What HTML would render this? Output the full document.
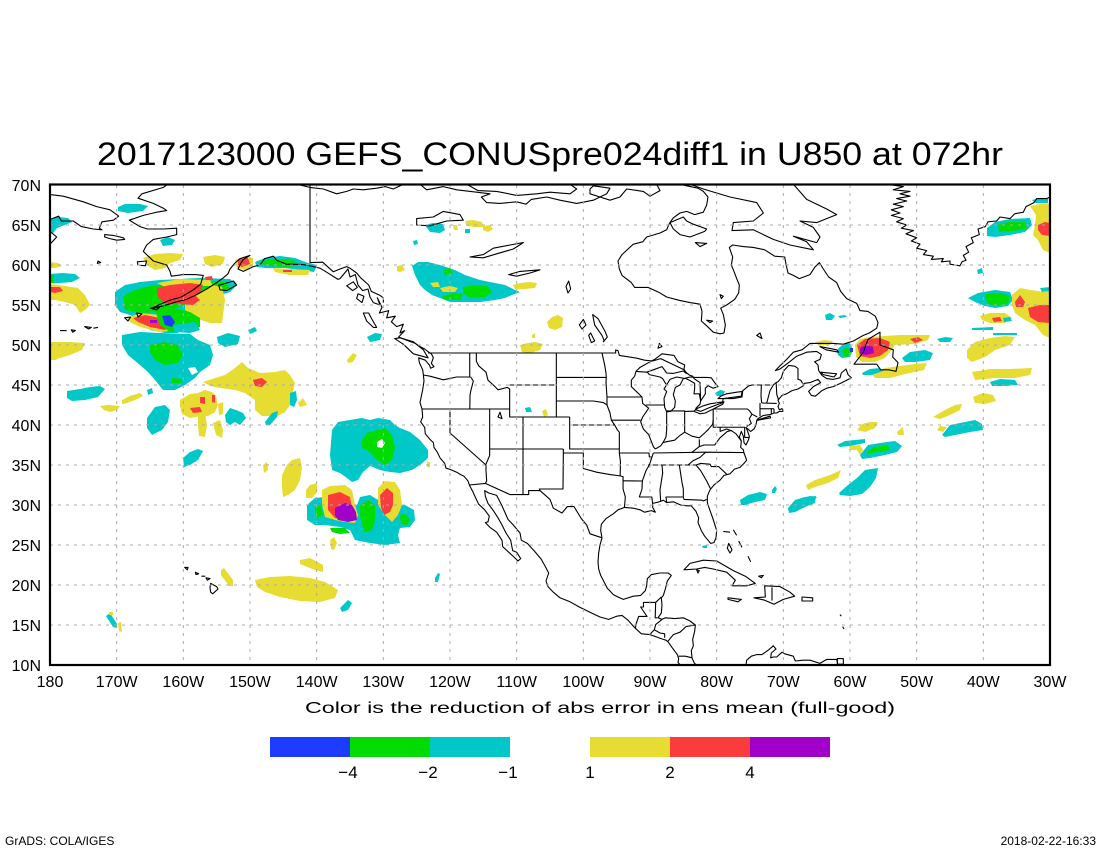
<!DOCTYPE html>
<html><head><meta charset="utf-8"><style>
html,body{margin:0;padding:0;background:#fff;}
svg{display:block;}
text{font-family:"Liberation Sans",sans-serif;fill:#000;}
.c{fill:#00c8c8}.g{fill:#00dc00}.b{fill:#1e3cff}.y{fill:#e6dc32}.r{fill:#fa3c3c}.p{fill:#a000c8}.w{fill:#fff}
.ln{fill:none;stroke:#000;stroke-width:1.1;vector-effect:non-scaling-stroke;stroke-linejoin:round}
</style></head><body>
<svg width="1100" height="850" viewBox="0 0 1100 850" xmlns="http://www.w3.org/2000/svg">
<defs><clipPath id="pc"><rect x="50" y="185" width="1000" height="480"/></clipPath></defs>
<rect width="1100" height="850" fill="#fff"/>

<text x="97" y="165" font-size="32" textLength="906" lengthAdjust="spacingAndGlyphs">2017123000 GEFS_CONUSpre024diff1 in U850 at 072hr</text>

<g clip-path="url(#pc)">
<g>
<polygon class="c" points="118,207 125,204 140,204 148,206 143,211 128,213 118,211"/>
<polygon class="c" points="50,219 58,217 68,218 72,222 65,225 57,228 53,233 50,233"/>
<polygon class="c" points="160,240 168,237 175,240 172,245 163,246"/>
<polygon class="y" points="50,262 58,263 62,266 55,268 50,268"/>
<polygon class="y" points="143,258 155,254 170,253 183,254 180,260 170,263 165,268 155,270 148,266"/>
<polygon class="y" points="203,257 215,255 225,257 223,264 212,267 205,264"/>
<polygon class="y" points="235,260 245,257 253,258 253,266 245,270 237,268"/>
<polygon class="r" points="238,259 248,258 250,264 242,267 238,265"/>
<polygon class="c" points="255,262 265,258 280,256 295,258 305,262 317,265 314,272 300,270 285,268 265,268 257,267"/>
<polygon class="g" points="258,263 270,259 290,259 300,264 290,267 270,266"/>
<polygon class="y" points="273,268 290,269 310,270 308,275 290,275 275,272"/>
<polygon class="r" points="283,270 292,270 292,272 283,272"/>
<polygon class="c" points="50,274 62,273 75,274 80,278 72,282 60,283 50,283"/>
<polygon class="g" points="50,275 54,275 54,283 50,283"/>
<polygon class="y" points="50,284 65,286 78,288 85,295 90,305 85,310 80,313 75,305 65,302 55,300 50,300"/>
<polygon class="r" points="50,287 60,287 63,291 55,293 50,292"/>

<polygon class="c" points="115,292 125,285 140,282 160,280 200,278 230,279 237,285 230,292 215,297 210,305 200,313 190,320 185,325 178,333 165,333 150,330 140,320 130,315 120,312 115,305"/>
<polygon class="g" points="123,296 135,290 150,286 175,283 200,281 225,282 230,288 215,294 200,298 185,305 170,310 155,312 140,313 125,310"/>
<polygon class="y" points="157,283 180,279 210,280 213,286 190,286 165,287"/>
<polygon class="r" points="157,288 170,285 190,283 203,285 200,292 190,298 178,303 165,303 158,297"/>
<polygon class="y" points="185,298 200,293 212,285 222,287 225,300 223,315 222,323 210,323 195,318 185,310"/>
<polygon class="r" points="177,297 195,295 200,300 193,305 180,304"/>
<polygon class="r" points="205,277 212,276 213,280 206,280"/>
<polygon class="y" points="127,318 140,313 160,315 175,320 177,330 160,332 140,327 130,322"/>
<polygon class="r" points="133,318 145,315 160,318 170,325 165,330 150,327 138,322"/>
<polygon class="p" points="150,320 157,320 157,323 150,323"/>
<polygon class="g" points="155,310 170,307 190,312 200,318 200,327 185,332 170,332 160,325"/>
<polygon class="b" points="162,316 170,315 175,322 172,327 165,325"/>
<polygon class="c" points="173,325 195,322 200,330 190,333 175,332"/>

<polygon class="c" points="122,335 140,332 160,333 190,334 198,340 210,345 213,355 210,365 200,372 195,378 185,385 175,390 163,390 155,380 148,372 140,365 128,355 122,345"/>
<polygon class="g" points="150,345 165,342 178,345 183,355 178,363 165,365 155,360 150,352"/>
<polygon class="g" points="172,378 182,379 182,383 172,383"/>
<polygon class="w" points="188,368 195,367 198,372 192,375"/>
<polygon class="c" points="217,337 228,333 240,336 238,344 225,347 218,343"/>
<polygon class="c" points="248,330 255,327 257,331 250,334"/>
<polygon class="c" points="367,337 375,333 382,334 380,340 370,342"/>
<polygon class="y" points="50,342 70,342 85,343 82,350 70,355 60,358 55,360 50,360"/>
<polygon class="y" points="347,360 353,353 357,355 353,362 348,363"/>

<polygon class="y" points="203,382 215,378 225,375 235,368 242,362 248,368 260,373 275,372 285,370 290,375 295,383 292,395 290,405 285,412 278,416 262,416 255,410 255,400 245,393 235,390 220,388 210,386"/>
<polygon class="r" points="253,380 262,378 267,382 262,387 255,386"/>
<polygon class="c" points="147,390 152,388 153,393 148,395"/>
<polygon class="c" points="67,391 80,389 90,387 100,386 105,389 98,397 85,400 72,401 67,398"/>
<polygon class="y" points="122,400 130,396 140,393 143,396 135,400 127,403 122,404"/>
<polygon class="y" points="100,406 108,405 120,406 117,410 110,412 104,410"/>
<polygon class="y" points="180,400 190,394 198,393 205,390 212,392 216,396 218,405 215,412 208,416 200,416 190,418 182,414 180,406"/>
<polygon class="r" points="200,397 205,397 205,404 200,403"/>
<polygon class="r" points="212,395 215,395 215,403 212,402"/>
<polygon class="r" points="190,408 200,407 202,412 193,413"/>
<polygon class="y" points="198,415 205,413 207,425 205,437 199,436 198,425"/>
<polygon class="y" points="213,423 220,420 223,430 222,438 216,435"/>
<polygon class="y" points="218,404 223,402 223,414 219,415"/>
<polygon class="c" points="225,415 230,408 236,410 243,413 246,418 240,425 235,422 230,425 226,422"/>
<polygon class="c" points="147,418 155,407 165,405 170,410 168,422 162,430 152,435 147,428"/>
<polygon class="c" points="265,422 272,413 278,411 277,417 270,425 266,425"/>
<polygon class="c" points="290,393 296,391 297,400 294,407 290,405"/>
<polygon class="y" points="298,403 303,398 307,405 300,407"/>
<polygon class="c" points="183,458 190,452 198,449 203,451 198,460 190,465 184,467"/>

<polygon class="c" points="332,430 338,422 350,420 362,418 370,420 378,418 390,420 395,425 400,428 410,432 420,440 428,450 428,458 420,465 412,470 400,473 390,472 380,470 370,466 363,472 358,480 352,482 347,478 340,473 332,470 330,455"/>
<polygon class="g" points="362,440 367,433 377,430 385,428 392,435 395,447 392,460 385,465 377,460 370,452 362,448"/>
<polygon class="w" points="377,442 382,439 385,443 382,448 377,447"/>
<polygon class="y" points="427,462 430,462 430,467 427,467"/>
<polygon class="y" points="263,465 267,462 268,470 264,473"/>
<polygon class="y" points="282,475 287,465 292,460 300,458 302,468 300,480 295,490 288,495 283,497 282,488"/>
<polygon class="y" points="306,490 310,485 317,483 317,492 312,498 306,498"/>

<polygon class="c" points="307,505 315,498 325,497 333,505 338,512 357,505 360,497 370,495 378,500 385,512 395,505 405,505 414,510 415,520 410,527 400,528 398,535 400,543 385,545 370,543 355,540 350,530 340,527 325,525 315,525 307,520"/>
<polygon class="g" points="315,507 321,505 323,515 318,518 315,515"/>
<polygon class="g" points="360,505 368,500 375,505 375,520 372,530 365,533 362,525 360,515"/>
<polygon class="g" points="400,515 405,514 410,520 407,525 401,524"/>
<polygon class="g" points="330,528 345,528 350,533 340,534 332,532"/>
<polygon class="y" points="322,490 330,486 345,485 352,490 355,505 358,515 355,523 345,522 335,520 325,517 322,505"/>
<polygon class="r" points="328,495 340,492 350,497 352,508 355,518 345,520 335,518 328,510"/>
<polygon class="p" points="335,508 345,503 352,505 356,512 357,520 348,522 338,520 335,515"/>
<polygon class="y" points="378,488 385,481 395,482 400,490 402,505 398,515 392,522 385,515 378,505"/>
<polygon class="r" points="380,495 387,488 393,493 393,505 390,512 384,515 381,508"/>
<polygon class="y" points="330,540 334,537 337,543 334,550 331,549"/>
<polygon class="y" points="300,560 310,558 323,565 323,572 315,570 305,566 300,564"/>
<polygon class="y" points="221,570 224,568 233,580 233,586 229,586 221,575"/>
<polygon class="y" points="255,580 270,577 290,576 310,578 325,582 338,590 335,598 320,602 300,601 280,597 265,592 257,587"/>
<polygon class="c" points="340,608 348,600 352,603 348,610 342,612"/>
<polygon class="c" points="106,616 110,613 117,624 117,628 113,627"/>
<polygon class="y" points="109,612 113,612 113,615 109,615"/>
<polygon class="y" points="118,623 121,622 122,632 119,631"/>
<polygon class="c" points="435,578 438,573 440,574 438,582 435,582"/>

<polygon class="c" points="425,225 433,223 443,224 445,230 440,233 430,232"/>
<polygon class="y" points="465,221 473,220 482,222 483,227 475,227 467,226"/>
<polygon class="y" points="483,226 490,225 493,229 488,232 483,230"/>
<polygon class="c" points="465,229 470,229 470,233 465,233"/>
<polygon class="y" points="453,225 457,225 458,230 454,230"/>
<polygon class="c" points="413,241 417,240 418,244 414,245"/>
<polygon class="c" points="412,266 418,262 428,262 440,265 455,270 465,275 480,280 495,283 505,285 515,290 520,292 512,295 505,298 495,300 480,302 465,302 450,302 440,298 432,295 425,290 420,285 415,275"/>
<polygon class="g" points="443,270 450,268 453,274 445,275"/>
<polygon class="g" points="463,287 475,285 488,286 492,292 485,297 470,298 463,293"/>
<polygon class="g" points="442,296 455,293 463,294 460,300 445,300"/>
<polygon class="y" points="430,283 438,282 440,287 433,287"/>
<polygon class="y" points="440,288 450,286 458,288 455,292 443,292"/>
<polygon class="y" points="513,285 520,283 530,282 537,283 535,288 525,289 515,289"/>
<polygon class="y" points="397,266 402,265 405,270 400,272 397,271"/>
<polygon class="y" points="547,322 552,317 558,315 563,318 562,327 555,330 549,328"/>
<polygon class="y" points="532,335 535,333 535,338 532,338"/>
<polygon class="y" points="520,345 528,343 535,342 543,344 540,350 530,353 522,352"/>
<polygon class="c" points="715,393 720,390 725,391 723,396 717,396"/>
<polygon class="c" points="525,408 530,407 532,412 526,412"/>
<polygon class="y" points="542,411 546,409 548,415 544,417"/>

<polygon class="c" points="987,228 995,222 1010,219 1030,218 1032,225 1025,232 1010,235 995,237 987,236"/>
<polygon class="g" points="998,225 1008,222 1025,222 1027,229 1012,231 999,232"/>
<polygon class="c" points="1032,200 1040,198 1048,199 1048,203 1035,203"/>
<polygon class="y" points="1030,206 1040,204 1050,204 1050,253 1043,250 1038,240 1033,235 1035,225 1036,215"/>
<polygon class="r" points="1038,225 1045,222 1050,223 1050,236 1042,235 1038,230"/>
<polygon class="c" points="977,270 982,268 983,273 978,274"/>
<polygon class="c" points="968,298 978,293 995,290 1010,292 1013,300 1008,306 995,308 985,306 975,302"/>
<polygon class="g" points="985,294 1000,293 1010,296 1008,304 995,306 987,303"/>
<polygon class="y" points="1012,295 1020,288 1030,290 1045,292 1050,290 1050,338 1043,335 1035,325 1025,320 1015,313 1012,305"/>
<polygon class="r" points="1015,302 1020,295 1025,302 1023,307 1016,307"/>
<polygon class="r" points="1028,308 1040,305 1050,305 1050,323 1038,322 1030,317"/>
<polygon class="c" points="1040,288 1050,287 1050,291 1042,292"/>
<polygon class="y" points="980,316 990,313 1005,313 1012,318 1005,323 990,323 982,320"/>
<polygon class="r" points="992,318 1000,317 1002,321 994,322"/>
<polygon class="c" points="1003,318 1010,317 1012,321 1004,322"/>
<polygon class="c" points="972,328 993,327 993,330 972,330"/>
<polygon class="c" points="993,333 1017,333 1017,335 993,335"/>
<polygon class="y" points="967,350 975,342 990,338 1005,336 1015,337 1010,345 995,350 985,357 972,362 967,358"/>
<polygon class="y" points="972,372 990,369 1010,369 1032,368 1030,375 1015,378 995,378 975,380"/>
<polygon class="c" points="990,382 1000,379 1015,380 1018,385 1005,386 992,386"/>
<polygon class="y" points="973,397 983,393 993,395 996,401 985,404 975,403"/>
<polygon class="y" points="933,417 945,410 955,405 962,404 960,410 950,415 940,419"/>
<polygon class="c" points="942,435 950,425 965,422 975,420 982,424 983,430 970,432 955,435 945,437"/>
<polygon class="y" points="937,430 940,426 947,427 943,432"/>
<polygon class="y" points="857,430 862,424 870,422 878,422 875,428 865,432"/>
<polygon class="y" points="897,432 903,427 904,435 898,435"/>
<polygon class="c" points="837,445 845,441 855,440 865,439 865,443 850,446 840,447"/>
<polygon class="c" points="860,455 868,445 880,443 895,441 902,446 897,452 885,455 870,458 862,459"/>
<polygon class="g" points="867,451 875,447 888,445 890,450 878,452 868,454"/>
<polygon class="y" points="849,446 860,445 863,450 860,455 857,450 850,450"/>
<polygon class="y" points="806,485 815,480 830,475 841,470 838,478 828,483 815,487 808,490"/>
<polygon class="c" points="839,493 848,485 857,478 865,470 878,468 876,478 870,487 862,494 850,496 840,495"/>
<polygon class="c" points="800,499 810,496 817,497 812,503 803,508 800,508"/>
<polygon class="c" points="788,508 795,500 805,497 816,496 815,503 805,507 795,512 789,513"/>
<polygon class="c" points="740,500 748,495 760,492 767,494 765,500 755,502 745,505 741,505"/>
<polygon class="c" points="772,490 775,486 777,489 775,493 772,493"/>
<polygon class="c" points="702,546 707,545 707,548 703,548"/>

<polygon class="c" points="837,350 843,344 850,343 853,350 850,357 842,358 838,355"/>
<polygon class="g" points="842,350 847,347 852,350 850,356 844,357"/>
<polygon class="b" points="850,348 853,348 853,352 850,352"/>
<polygon class="y" points="855,345 860,339 870,337 885,336 900,335 915,335 930,335 928,340 915,344 895,345 890,352 885,358 875,362 862,362 856,357"/>
<polygon class="r" points="857,345 865,339 880,338 890,342 888,350 880,356 870,358 860,356"/>
<polygon class="p" points="860,348 866,345 873,347 874,353 866,355 860,354"/>
<polygon class="r" points="910,339 918,337 923,340 915,343"/>
<polygon class="c" points="937,339 945,337 953,338 950,342 940,342"/>
<polygon class="c" points="902,358 910,352 925,350 933,353 930,360 915,362 905,362"/>
<polygon class="y" points="873,375 885,368 900,366 915,364 927,363 924,370 905,374 890,378 875,378"/>
<polygon class="c" points="862,373 870,369 880,368 883,371 872,375 863,375"/>
<polygon class="c" points="825,315 830,313 835,316 832,320 826,320"/>
<polygon class="c" points="838,316 845,315 847,317 840,318"/>
<polygon class="y" points="815,342 825,340 833,341 830,345 818,345"/>
</g>

<g transform="matrix(6.66667 0 0 -8 1250 745)">
<polyline class="ln" points="-180,68.8 -178,68.6 -175,67.9 -173,67.3 -171,66.9 -170,66.3 -169.7,66.1 -170.5,65.6 -172.2,65.4 -172.6,64.6 -172.2,64.4 -173.5,64.5 -175.3,64.8 -176.5,65.5 -178.3,65.5 -178.7,66.1 -180,65.7"/>
<polyline class="ln" points="-180,64.2 -179,63.5 -180,62.6"/>
<polygon class="ln" points="-171.8,63.8 -170.5,63.7 -169,63.4 -168.8,63.2 -170,63.1 -171,63.3 -171.8,63.5"/>
<polygon class="ln" points="-166.9,60.4 -165.5,60.5 -165.7,59.9 -166.8,60"/>
<polygon class="ln" points="-172.8,60.5 -172.4,60.3 -172.9,60.2"/>
<polyline class="ln" points="-162,70.3 -163,69.7 -166.2,68.9 -166.8,68.35 -164.5,67.7 -163,67.1 -162.5,66.8 -164,66.6 -164.5,66.5 -166,66.2 -168.1,65.6 -166.5,64.8 -165.4,64.5 -163,64.5 -161,64.6 -161,63.8 -162.5,63.5 -164.5,63.2 -165.5,62.5 -166,61.7 -165,60.9 -164.5,60.5 -162.5,60 -162,59.2 -161.8,58.6 -160,58.8 -158.2,58.8 -157,58.7 -157.4,57.6 -158.5,56.9 -160.3,56 -162,55.6 -163.5,55.1 -164.7,54.6 -163,54.9 -161,55.4 -159.5,55.7 -158,56.3 -156.5,57 -155,57.8 -154,58.4 -153.3,58.9 -153,59.5 -152.3,60.2 -151.5,60.8 -150,61.2 -151,60.7 -151.4,60.2 -151.8,59.5 -151,59.2 -149.5,59.8 -148.5,60 -147.8,60.8 -146.5,61.1 -146,60.6 -144.5,60.1 -142,60.05 -140.5,59.8 -139.5,59.6 -138.5,59.1 -136.8,58.2 -136.5,58.3 -135.3,59.5 -135,58.5 -134.2,58.8 -133.8,57.5 -133.1,56.8 -132.3,57 -132,56 -131.5,55.3 -130.5,55 -130.9,55.9 -130.2,54.7 -130.6,54 -129.2,54.3 -129.5,53.4 -128.2,53.6 -128.8,52.9 -128,52.3 -127,52.6 -127.5,51.5 -126.8,51.8 -127.7,51 -126.5,50.6 -125.2,50.2 -124.5,49.8 -123.8,49.5 -123.1,49.05 -122.8,48.9 -122.5,48.4 -122.8,47.7 -122.4,47.3 -122.9,47.1 -123.1,47.5 -123.7,48.1 -124.7,48.4 -124.6,47.8 -124.1,46.9 -124,46.3 -123.9,45.5 -124.1,44.4 -124.5,42.8 -124.2,42 -124.1,41 -124.4,40.4 -123.8,39.7 -123.7,38.9 -123,38.2 -122.5,37.8 -122.4,37.2 -121.9,36.6 -121.5,35.9 -120.8,35.2 -120.6,34.6 -120,34.45 -119,34.1 -118.4,33.8 -117.9,33.6 -117.3,33 -117.1,32.5 -116.6,31.7 -116.1,30.8 -115.7,30.1 -114.8,29.4 -114.1,28.6 -114.3,27.9 -114.7,27.8 -114,27.2 -113,26.6 -112.2,25.6 -112.1,24.8 -111.2,24.1 -110.4,23.5 -109.8,23 -109.4,23.3 -110,24.1 -110.6,24.3 -110.9,25.6 -111.6,26.5 -112.2,27.5 -112.8,28.4 -113.5,29.3 -114.3,30.2 -114.7,31.1 -114.8,31.8 -114.2,31.5 -113,31.2 -112.2,29.9 -111.3,28.2 -110.5,27.5 -109.5,26.5 -109.3,25.6 -108.4,25.2 -107.3,24.2 -106.3,23.2 -105.7,22.3 -105.2,21.5 -105.6,20.5 -105.3,19.8 -104.5,19.1 -103.5,18.4 -102,17.9 -100.5,17.2 -99,16.6 -97.5,16 -96.2,15.7 -95,16.1 -94.2,16.2 -93.3,15.6 -92.2,14.6 -91.3,13.9 -90,13.8 -89,13.5 -88,13.2 -87.6,13.1 -87.3,12.9 -86.7,12.2 -85.9,11.3 -85.7,10.8 -85.8,10.3 -85.3,9.9 -84.8,9.6"/>
<polyline class="ln" points="-82.6,9.6 -83.4,10.3 -83.7,10.9 -83.8,11.8 -83.5,12.4 -83.6,13.2 -83.3,14.2 -83.2,15 -84,15.5 -85,15.9 -86.3,15.8 -87.7,15.9 -88.2,15.7 -88.8,15.9 -88.3,16.5 -88.2,17.5 -88.3,18.4 -88,18.7 -87.7,19.5 -87.4,20.5 -86.8,21.2 -87.3,21.5 -88.5,21.5 -89.8,21.3 -90.4,20.8 -90.5,19.9 -90.7,19.3 -91.4,18.7 -92.5,18.6 -94,18.2 -94.8,18.5 -95.5,18.8 -96.4,19.6 -96.9,20.4 -97.4,21.2 -97.7,22 -97.8,22.9 -97.7,24 -97.5,25 -97.2,25.9 -97.4,26.8 -97.3,27.6 -96.6,28.3 -95.5,28.9 -94.8,29.4 -93.8,29.7 -92.5,29.6 -91.5,29.4 -90.8,29.1 -89.8,29.3 -89.2,29.1 -89.6,29.7 -89.6,30.2 -88.6,30.4 -88,30.6 -87.5,30.3 -86.5,30.4 -85.4,30 -84.5,29.9 -83.8,29.9 -83.1,29.2 -82.7,28.4 -82.8,27.8 -82.3,26.8 -81.8,26.1 -81.3,25.6 -80.9,25.2 -80.4,25.3 -80.1,25.9 -80,26.8 -80.3,27.6 -80.6,28.4 -81,29.3 -81.4,30.3 -81.4,31.1 -81,31.9 -80.4,32.5 -79.5,33.1 -78.9,33.7 -78,33.9 -77.3,34.5 -76.5,34.7 -75.9,35.2 -75.5,35.6 -75.9,36.5 -76,36.9 -76.4,37.2 -76.3,38 -76.6,38.5 -76.3,39.2 -76,38.6 -75.9,37.8 -75.6,37.5 -75.2,38.2 -75.1,38.6 -75.4,39.3 -75.6,39.7 -74.9,39.2 -74.4,39.5 -74.1,40 -74,40.5 -73.8,40.8 -73,41.2 -72,41.3 -71.4,41.5 -71,41.5 -70.6,41.7 -70,41.7 -70.2,42.05 -70.6,41.9 -70.8,42.3 -70.6,42.7 -70.8,43.1 -70.2,43.7 -69.5,43.9 -68.7,44.3 -67.8,44.5 -67,44.9 -66.9,45.2 -66,45.3 -64.8,45.7 -64.4,45.3 -65.5,44.8 -66.2,44.2 -65.8,43.7 -65.2,43.6 -64.2,44.3 -63.5,44.6 -62.5,44.8 -61.2,45.3 -60.5,45.6 -59.8,45.9 -60.3,46.3 -60.6,47 -61.3,46.5 -61.5,45.9 -62.5,45.7 -63.5,45.8 -64.2,46.2 -64.7,46.8 -64.8,47.5 -65.3,47.9 -64.5,48.2 -64.3,48.8 -65,49.2 -66.5,49.1 -68,48.6 -69.2,47.8 -70.5,47 -71.2,46.8 -70.5,47.4 -69.5,48.2 -68.5,49.1 -67.2,49.4 -66,50.2 -64.5,50.2 -62.5,50.2 -61,50.1 -59.5,50.5 -58,51.2 -57.1,51.5 -56,52.1 -55.8,52.8 -56.2,53.6 -57.3,54.2 -58.5,54.3 -59,55.2 -60.5,55.8 -61.4,56.7 -62,57.8 -63.2,58.5 -64,59.5 -64.6,60.3 -65.3,59.7 -66,58.8 -67.6,58.3 -68.5,58.7 -69.3,59 -69.6,60.1 -69.8,61 -71.3,61.1 -72.8,61.9 -74.5,62.2 -76,62.3 -77.6,62.5 -78.1,62.2 -77.6,61 -77.8,60 -77.4,59.2 -77,58.3 -76.6,57.5 -76.7,56.5 -77.3,55.7 -78.5,55 -79.4,54.6 -79,53.8 -78.7,52.5 -78.9,51.5 -79.5,51.4 -80.5,51.6 -81.5,52.4 -82.3,53 -82.2,54.2 -82.5,55.1 -84,55.3 -85.7,55.6 -87.5,56 -88.7,56.6 -90.3,57.2 -92.3,57.2 -92.8,57.8 -94.2,58.7 -94.6,59.5 -94.8,60.5 -94.2,61.3 -93.3,62 -92.5,62.6 -91.1,62.9 -90.5,63.5 -88.5,64 -87.5,64.4 -87.1,65.2 -86.5,65.9 -85.5,66.5 -84.5,66.7 -83.3,66.3 -82,66.6 -81.5,67.5 -81.3,68.5 -82,69.2 -82.8,69.6 -84.5,69.9 -85.5,70.1"/>
<polyline class="ln" points="-89,70.1 -88.5,69.3 -90,68.6 -91,69.2 -93.5,69.5 -94.5,68.5 -96,68.1 -97.5,68.5 -98.5,68.1 -101,67.7 -103.5,68.1 -105.5,68.5 -107.8,68.2 -108.6,67.6 -110,67.9 -112.5,67.7 -114.5,67.8 -115.3,68.5 -114,68.9 -116,69.1 -119,69.4 -121,69.8 -123.5,69.4 -124.5,70.1"/>
<polyline class="ln" points="-127,70.1 -128.5,69.5 -129.7,69.8 -131,69.6 -133,69.4 -134.5,69.5 -135.5,69.2 -137,68.9 -139,69.5 -141,69.7 -143,70.1"/>
<polyline class="ln" points="-117.5,70.1 -115.8,69.3 -113,69.2 -110,68.7 -107,68.9 -105,69.1 -102,68.9 -101,69.5 -102,70.1"/>
<polygon class="ln" points="-98.5,69.9 -96,69.6 -96.5,68.9 -97.5,68.5 -99,68.9 -99,69.5"/>
<polyline class="ln" points="-84,70.1 -82,69.5 -78,68.5 -74,67.8 -73,66.5 -74.5,65.5 -77.5,65.3 -77.7,64.3 -74.5,64.4 -71.5,63.2 -69,62.5 -65.5,61.9 -66.5,62.9 -68.5,63.6 -65,62.8 -64.5,63.5 -65.5,64.7 -67.5,65.5 -65,65.3 -62,66.3 -63.5,67 -66.5,68.2 -68.5,70.1"/>
<polygon class="ln" points="-86.5,64.5 -85.5,63.8 -84,63.5 -81.8,64.2 -81.5,64.5 -83.5,65.1 -84.5,65.5 -85,66 -87,65.3"/>
<polygon class="ln" points="-83.2,62.8 -81.5,62.7 -82.5,62.3"/>
<polygon class="ln" points="-79.5,56.3 -79,56.1 -79.3,55.8"/>
<polygon class="ln" points="-81.5,53.1 -80.6,53 -81,52.8"/>
<polyline class="ln" points="-54.6,70.1 -52,69.8 -53.5,69.4 -51,69.2 -52.5,68.9 -51,68.6 -53,68.3 -51.5,68 -53.5,67.6 -52,67.3 -53.8,66.9 -52.5,66.5 -53.8,66.2 -52,65.8 -53,65.4 -51.5,65 -52.3,64.6 -50.5,64.3 -51.6,63.9 -50,63.4 -50.8,63 -49.5,62.6 -50,62.1 -48.5,61.8 -49,61.3 -47.5,61.1 -47.8,60.7 -46,60.8 -46.3,60.4 -45,60.5 -45,60.1 -43.5,59.9 -43.2,60.4 -42.6,60.6 -43,61.2 -42.2,61.6 -42.6,62.3 -41.5,62.8 -41.8,63.4 -40.6,63.8 -40.8,64.5 -39.7,64.8 -39.3,65.4 -38,65.5 -37.5,66 -36,65.8 -35.3,66.4 -34,66.6 -33.6,67.3 -32.4,67.8 -32,68.3 -30.5,68.3 -29.5,68.7"/>
<polygon class="ln" points="-59.4,47.6 -58,49.1 -57.3,50.7 -55.5,51.6 -55.5,50 -53.5,49.4 -53.6,48.5 -52.8,47.8 -53.1,46.7 -54.2,46.9 -55.4,46.9 -56,47.6 -57.7,47.6"/>
<polygon class="ln" points="-64.5,49.8 -62,49.4 -61.7,49.1 -63.6,49.4"/>
<polygon class="ln" points="-64.4,46.6 -62,46.4 -62.4,46 -64,46.3"/>
<polygon class="ln" points="-74,40.6 -72,41.1 -71.9,40.9 -73.8,40.6"/>
<polygon class="ln" points="-128.3,50.8 -127,50.1 -125.5,48.9 -123.3,48.4 -124,49.4 -125.5,50.4 -127.5,50.9"/>
<polygon class="ln" points="-132.2,54 -131.7,53.2 -131,52.2 -131.5,52.2 -132.5,53 -133,54"/>
<polygon class="ln" points="-134.5,57.9 -133.9,57.2 -134.6,56.8 -135.5,57.4"/>
<polygon class="ln" points="-133.8,56.4 -132.9,56.1 -133.2,55.3 -134,55.8"/>
<polygon class="ln" points="-154.5,57.5 -152.5,58 -152,57.5 -153.5,56.8 -154.5,56.9 -154.7,57.5"/>
<polygon class="ln" points="-164.9,54.6 -163.6,54.7 -164,54.4"/>
<polygon class="ln" points="-167,54 -166.2,53.9 -166.8,53.5"/>
<polygon class="ln" points="-168.8,53.4 -167.9,53.5 -168.3,53"/>
<polygon class="ln" points="-174.8,52.3 -173.8,52.2 -174.2,52"/>
<polygon class="ln" points="-176.8,51.9 -176.2,51.8 -176.6,51.6"/>
<polyline class="ln" points="-178.5,51.8 -177.5,51.8"/>
<polyline class="ln" points="-173.5,52.1 -172.8,52.2"/>
<polygon class="ln" points="-159.8,22.2 -159.3,22.2 -159.4,21.9"/>
<polygon class="ln" points="-158.2,21.6 -157.7,21.4 -158.1,21.3"/>
<polyline class="ln" points="-157.3,21.1 -156.7,21.1"/>
<polygon class="ln" points="-156.6,20.9 -156,20.8 -156.4,20.6"/>
<polygon class="ln" points="-155.9,20.2 -155,19.8 -154.8,19.5 -155.6,18.9 -155.9,19.1 -156,19.7"/>
<polygon class="ln" points="-84.9,21.9 -84,22.7 -82,23.1 -80,23 -77.5,21.8 -75.7,21.1 -74.2,20.2 -75.5,19.9 -77.7,19.9 -77.2,20.6 -78.5,21.6 -80.5,22 -81.8,22.2 -83,22"/>
<polygon class="ln" points="-78.3,18.4 -76.3,18.2 -76.8,17.9 -78.3,18.2"/>
<polygon class="ln" points="-74.4,18.4 -72.7,18.5 -72.8,19.9 -70.5,19.8 -69,19.1 -68.3,18.6 -70,18.2 -71.4,17.6 -72.8,18.1"/>
<polyline class="ln" points="-71.7,19.7 -71.7,18.05"/>
<polygon class="ln" points="-67.2,18.5 -65.6,18.4 -65.6,18 -67.2,18"/>
<polygon class="ln" points="-78.2,25.2 -77.7,24.4 -78,24 -78.4,24.6"/>
<polyline class="ln" points="-79,26.7 -78,26.6"/>
<polyline class="ln" points="-77.5,26.9 -77,26.2"/>
<polyline class="ln" points="-76.7,25.5 -76.2,24.7"/>
<polyline class="ln" points="-75.3,23.6 -74.9,22.9"/>
<polygon class="ln" points="-73.7,21.1 -73,21.2 -73.3,20.9"/>
<polygon class="ln" points="-83,21.9 -82.6,21.8 -82.8,21.5"/>
<polyline class="ln" points="-75.6,10 -75.5,10.6 -74.8,11.1 -74,11.3 -73.2,11.3 -72.2,11.9 -71.5,12.4 -71.1,12 -71.8,11.5 -71.9,10.9 -71.5,11 -71,11 -70.2,11.6 -69.8,11.4 -68.5,11.1 -68.2,10.5 -67,10.6 -66,10.6 -64.5,10.2 -63.5,10.7 -62,10.7 -61.8,10"/>
<polygon class="ln" points="-61.9,10.8 -61,10.8 -61,10.1 -61.9,10.1"/>
<polyline class="ln" points="-61.5,16.3 -61.3,16.1"/>
<polyline class="ln" points="-61.1,14.8 -60.9,14.5"/>
<polygon class="ln" points="-92.1,46.7 -90.5,46.6 -89.5,46.9 -88.2,47.3 -87.5,46.5 -86.5,46.45 -85,46.75 -84.6,46.45 -84.9,47 -84.8,47.5 -85.8,47.9 -86.4,48.7 -88.2,48.9 -89.3,48.2 -90,47.9 -91.5,47.2"/>
<polygon class="ln" points="-87.8,42.2 -87.5,41.65 -86.9,41.7 -86.3,42.2 -86.2,43 -86.5,43.8 -86.2,44.7 -85.5,45 -85,45.8 -84.7,45.8 -86,46 -87,45.7 -87.6,44.9 -87.9,44.5 -87.5,44.2 -87.9,43.3"/>
<polygon class="ln" points="-84.7,45.85 -84,46 -83.2,45.95 -81.5,45.95 -80.8,45.9 -80.3,45.3 -79.8,44.8 -80.5,44.6 -81.3,44.9 -81.7,44.6 -81.7,43.9 -82.4,43 -82.6,43.9 -83.4,43.9 -83.3,44.6 -83.3,45.2 -84.1,45.6"/>
<polygon class="ln" points="-83.4,41.7 -82.5,41.4 -81.7,41.5 -80.5,42 -79.1,42.6 -78.9,42.9 -79.8,42.8 -81,42.65 -82,42.4 -83.1,42"/>
<polygon class="ln" points="-79.8,43.3 -79,43.3 -77.5,43.3 -76.2,43.5 -76.1,44.2 -77,44.1 -78.5,43.9 -79.4,43.6"/>
<polygon class="ln" points="-97,50.4 -96.4,51 -96.8,51.8 -97.8,53.3 -98.6,53.8 -98.3,52.5 -97.2,51.2 -96.9,50.6"/>
<polygon class="ln" points="-100.2,52 -99.6,52.5 -100,53.2 -100.6,52.5"/>
<polygon class="ln" points="-98.8,50.3 -98.3,50.5 -98.9,51.5 -99.2,51.2"/>
<polygon class="ln" points="-102.3,56.5 -101.9,57 -102.2,58 -102.6,57.3"/>
<polygon class="ln" points="-111.2,58.8 -109.5,59.2 -106.5,59.4 -108,59 -110,58.6"/>
<polygon class="ln" points="-117,61 -115,61.3 -113.5,62.1 -111,62.5 -109,62.8 -110.5,62 -113,61.4 -115,60.9"/>
<polygon class="ln" points="-125,65 -123,64.9 -120.5,65.5 -118,65.6 -118.5,66.3 -121,66.7 -122.5,66 -125,65.8"/>
<polygon class="ln" points="-112.5,41.6 -112.2,40.8 -112.8,41"/>
<polygon class="ln" points="-88.8,49.6 -88.2,49.8 -88.6,50.2"/>
<polygon class="ln" points="-74,51.2 -73.2,50.8 -73.5,51.5"/>
<polyline class="ln" points="-141,70.1 -141,60.3 -139.1,60.35 -137.5,59.15 -136.5,59.5 -135.5,59.8 -135,59.6 -134,59 -133.4,58.4 -132.2,57.5 -131.8,56.7 -130.5,56.2 -130,55.9 -130,55.3"/>
<polyline class="ln" points="-123.3,49 -95.15,49 -95.15,49.38 -94.8,49.3 -94.6,48.7 -93.5,48.55 -92,48.35 -90.8,48.1 -89.6,48 -88.4,48.3 -84.9,46.9 -84.5,46.5 -84,46.2 -83.6,46.1 -83.4,45.8 -82.5,45.3 -82.4,43 -82.5,42.6 -83.1,42.1 -83.1,41.9 -82.4,41.7 -81,42.2 -79.1,42.8 -79.05,43.2 -79,43.3 -76.3,43.6 -76.2,44.2 -75.2,44.9 -74.7,45 -71.5,45 -71.1,45.3 -70.8,45.4 -70.3,45.9 -70,46.7 -69.2,47.45 -68.3,47.35 -67.8,47.07 -67.8,45.7 -67.4,45.6 -67.1,45.2"/>
<polyline class="ln" points="-117.1,32.5 -114.7,32.7 -111,31.3 -108.2,31.3 -108.2,31.8 -106.5,31.8 -105,30.7 -104.5,29.6 -103.2,29 -102.4,29.8 -101.4,29.8 -100.3,28.3 -99.5,27.5 -99,26.4 -97.2,25.9"/>
<polyline class="ln" points="-92.2,14.55 -92.1,15.1 -91.7,16.07 -90.45,16.07 -91.4,17.25 -90.98,17.25 -90.98,17.82 -89.15,17.82 -88.3,18.5"/>
<polyline class="ln" points="-89.15,17.82 -89.22,15.9 -88.9,15.9"/>
<polyline class="ln" points="-88.2,15.7 -89.15,15.05 -89.35,14.4 -90.1,13.75"/>
<polyline class="ln" points="-89.35,14.4 -88.5,14 -87.8,13.9 -87.8,13.4"/>
<polyline class="ln" points="-87.3,12.98 -86.5,13.8 -85.5,14.1 -84.6,14.8 -83.2,15"/>
<polyline class="ln" points="-85.7,11.1 -84.7,11.1 -83.7,10.9"/>
<polyline class="ln" points="-124,46.25 -123,46.1 -121,45.65 -119,46 -116.9,46"/>
<polyline class="ln" points="-117.04,46 -117.04,49"/>
<polyline class="ln" points="-116.9,46 -116.5,45.5 -116.9,44.2 -117,43.7 -117.03,42"/>
<polyline class="ln" points="-124.2,42 -111.05,42"/>
<polyline class="ln" points="-116.05,49 -116.05,47.98 -115.7,47.4 -114.6,46.6 -114.3,45.6 -113.5,45 -112.8,44.4 -111.4,44.7 -111.05,44.5 -111.05,41 -109.05,41"/>
<polyline class="ln" points="-111.05,45 -104.05,45"/>
<polyline class="ln" points="-120,42 -120,39 -114.6,35 -114.6,34.3 -114.5,33 -114.7,32.7"/>
<polyline class="ln" points="-114.05,42 -114.05,36.2 -114.6,35.1"/>
<polyline class="ln" points="-114.05,37 -103,37"/>
<polyline class="ln" points="-109.05,41 -109.05,31.3"/>
<polyline class="ln" points="-109.05,41 -102.05,41"/>
<polyline class="ln" points="-104.05,41 -104.05,49"/>
<polyline class="ln" points="-103,37 -103,36.5 -103.05,32 -106.6,32 -106.5,31.8"/>
<polyline class="ln" points="-102.05,41 -102.05,37 -94.6,37"/>
<polyline class="ln" points="-103,36.5 -100,36.5 -100,34.56 -98,34.1 -96,33.8 -94.5,33.64 -94.04,33.55 -94.04,32 -93.7,31 -93.8,30 -93.85,29.7"/>
<polyline class="ln" points="-104.05,45.94 -96.56,45.94"/>
<polyline class="ln" points="-96.56,45.94 -96.6,46.5 -96.8,47.5 -97.2,49"/>
<polyline class="ln" points="-104.05,43 -98.5,43 -97,42.8 -96.45,42.5"/>
<polyline class="ln" points="-96.56,45.94 -96.6,45.3 -96.45,43.5 -96.45,42.5 -96,41.5 -95.8,40.6 -95.3,40 -94.9,39.4 -94.6,39.1 -94.6,36.5 -94.43,35.4 -94.48,33.64"/>
<polyline class="ln" points="-102.05,40 -95.3,40"/>
<polyline class="ln" points="-94.6,36.5 -90.15,36.5 -90.1,36 -89.7,36"/>
<polyline class="ln" points="-94.04,33.02 -91.15,33 -91.2,32 -91.6,31 -89.73,31 -89.6,30.2"/>
<polyline class="ln" points="-89.5,36.5 -89.7,36 -90.1,35 -90.6,34.3 -91.15,33"/>
<polyline class="ln" points="-96.45,43.5 -91.2,43.5 -91.1,42.7 -90.2,42.1 -91.1,41 -91.4,40.4 -91,39.5 -90.2,38.8 -89.5,37.3 -89.2,37"/>
<polyline class="ln" points="-95.8,40.6 -91.4,40.6"/>
<polyline class="ln" points="-92.1,46.7 -92.3,46.1 -92.8,45.6 -92.8,44.8 -91.2,43.5"/>
<polyline class="ln" points="-90.6,42.5 -87.8,42.5"/>
<polyline class="ln" points="-90.4,46.6 -90.1,46.3 -88.5,46 -88.1,45.8 -87.6,45.1"/>
<polyline class="ln" points="-87.5,41.7 -87.5,39.4 -87.6,38.5 -88.05,37.8 -88.4,37.4 -89.2,37"/>
<polyline class="ln" points="-87.5,41.76 -84.8,41.76 -84.8,39.1"/>
<polyline class="ln" points="-84.8,41.7 -83.45,41.73"/>
<polyline class="ln" points="-88.05,37.8 -87.6,37.9 -86.3,38.1 -85.5,38.7 -84.8,39.1 -83.7,38.6 -82.6,38.4 -81.8,39 -81.3,39.4 -80.6,40.1 -80.52,40.64 -80.52,42"/>
<polyline class="ln" points="-80.52,42 -75.4,42 -75.1,41.8 -74.7,41.35 -73.9,41"/>
<polyline class="ln" points="-74.7,41.35 -75.1,40.8 -74.8,40.2 -75.5,39.8"/>
<polyline class="ln" points="-80.52,40.64 -80.52,39.72 -75.8,39.72 -75.8,38.45 -75.05,38.45"/>
<polyline class="ln" points="-89.5,36.5 -81.65,36.6"/>
<polyline class="ln" points="-90.3,35 -83.1,35"/>
<polyline class="ln" points="-84.3,35 -83.5,35.55 -82.5,35.95 -81.65,36.6 -75.9,36.55"/>
<polyline class="ln" points="-83.7,36.6 -82.6,37.3 -82.6,38.2"/>
<polyline class="ln" points="-82.6,37.3 -81.9,37.5 -80.3,37.5 -79.5,38.4 -78.4,39.2 -77.8,39.3 -78.5,39.5 -79.48,39.2 -79.48,39.72"/>
<polyline class="ln" points="-77.8,39.3 -77.1,38.9 -76.3,38"/>
<polyline class="ln" points="-88.2,35 -88.1,34 -88.5,31.9 -88.4,30.4"/>
<polyline class="ln" points="-85.6,35 -85.2,32.8 -85,32 -85,31 -87.6,31 -87.5,30.3"/>
<polyline class="ln" points="-85,31 -84.9,30.7 -82.2,30.6 -82,30.5 -81.5,30.7"/>
<polyline class="ln" points="-83.1,35 -82.4,34.3 -81.5,33 -80.9,32"/>
<polyline class="ln" points="-83.1,35 -82.4,35.2 -81,35.1 -80.8,34.8 -79.7,34.8 -78.5,33.85"/>
<polyline class="ln" points="-73.3,45 -73.35,43.6 -73.25,42.75"/>
<polyline class="ln" points="-71.5,45 -72,44.3 -72.5,42.7"/>
<polyline class="ln" points="-71.08,45.3 -70.98,43.8 -70.7,43.1"/>
<polyline class="ln" points="-73.25,42.75 -71,42.7"/>
<polyline class="ln" points="-73.5,42.75 -73.5,41.1"/>
<polyline class="ln" points="-73.5,42.03 -71.4,42.03"/>
<polyline class="ln" points="-71.8,42 -71.8,41.3"/>
<polyline class="ln" points="-71.4,42 -71.4,41.5"/>
</g>

<g stroke="#aaa" stroke-width="1" stroke-dasharray="3 5" fill="none">
<path d="M116.67 185V665M183.33 185V665M250 185V665M316.67 185V665M383.33 185V665M450 185V665M516.67 185V665M583.33 185V665M650 185V665M716.67 185V665M783.33 185V665M850 185V665M916.67 185V665M983.33 185V665"/>
<path d="M50 625H1050M50 585H1050M50 545H1050M50 505H1050M50 465H1050M50 425H1050M50 385H1050M50 345H1050M50 305H1050M50 265H1050M50 225H1050"/>
</g>
</g>

<rect x="50" y="184.5" width="1000" height="480.5" fill="none" stroke="#000" stroke-width="2.2"/>

<g font-size="16" text-anchor="middle">
<text x="50" y="687">180</text>
<text x="116.67" y="687">170W</text>
<text x="183.33" y="687">160W</text>
<text x="250" y="687">150W</text>
<text x="316.67" y="687">140W</text>
<text x="383.33" y="687">130W</text>
<text x="450" y="687">120W</text>
<text x="516.67" y="687">110W</text>
<text x="583.33" y="687">100W</text>
<text x="650" y="687">90W</text>
<text x="716.67" y="687">80W</text>
<text x="783.33" y="687">70W</text>
<text x="850" y="687">60W</text>
<text x="916.67" y="687">50W</text>
<text x="983.33" y="687">40W</text>
<text x="1050" y="687">30W</text>
</g>
<g font-size="16" text-anchor="end">
<text x="41" y="671">10N</text>
<text x="41" y="631">15N</text>
<text x="41" y="591">20N</text>
<text x="41" y="551">25N</text>
<text x="41" y="511">30N</text>
<text x="41" y="471">35N</text>
<text x="41" y="431">40N</text>
<text x="41" y="391">45N</text>
<text x="41" y="351">50N</text>
<text x="41" y="311">55N</text>
<text x="41" y="271">60N</text>
<text x="41" y="231">65N</text>
<text x="41" y="191">70N</text>
</g>

<text x="305" y="713" font-size="16" textLength="590" lengthAdjust="spacingAndGlyphs">Color is the reduction of abs error in ens mean (full-good)</text>

<rect x="270" y="737" width="80" height="20" fill="#1e3cff"/>
<rect x="350" y="737" width="80" height="20" fill="#00dc00"/>
<rect x="430" y="737" width="80" height="20" fill="#00c8c8"/>
<rect x="590" y="737" width="80" height="20" fill="#e6dc32"/>
<rect x="670" y="737" width="80" height="20" fill="#fa3c3c"/>
<rect x="750" y="737" width="80" height="20" fill="#a000c8"/>
<g font-size="17" text-anchor="middle">
<text x="348" y="778">−4</text>
<text x="428" y="778">−2</text>
<text x="508" y="778">−1</text>
<text x="590" y="778">1</text>
<text x="670" y="778">2</text>
<text x="750" y="778">4</text>
</g>

<text x="5" y="845" font-size="12">GrADS: COLA/IGES</text>
<text x="1096" y="845" font-size="12" text-anchor="end">2018-02-22-16:33</text>
</svg>
</body></html>
